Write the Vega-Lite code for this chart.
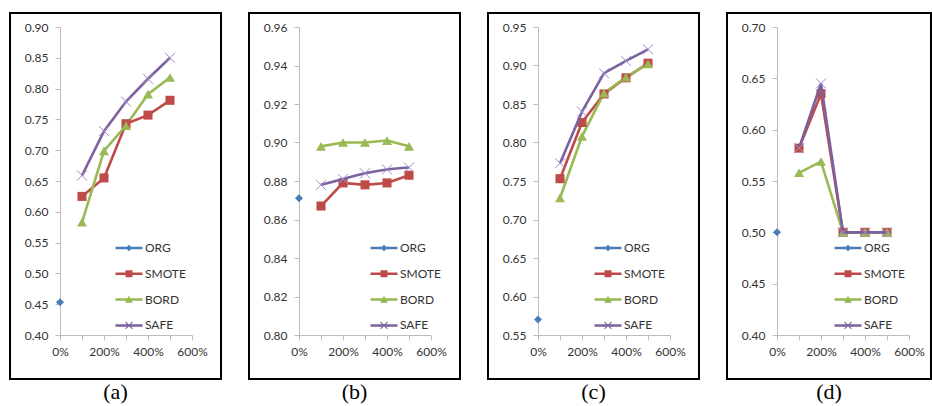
{
  "$schema": "https://vega.github.io/schema/vega-lite/v6.json",
  "padding": {"left": 9, "top": 12, "right": 0, "bottom": 0},
  "datasets": {
    "d": [
      {"p": "a", "s": "ORG", "x": 0, "v": 0.453},
      {"p": "a", "s": "SMOTE", "x": 100, "v": 0.625},
      {"p": "a", "s": "SMOTE", "x": 200, "v": 0.655},
      {"p": "a", "s": "SMOTE", "x": 300, "v": 0.743},
      {"p": "a", "s": "SMOTE", "x": 400, "v": 0.757},
      {"p": "a", "s": "SMOTE", "x": 500, "v": 0.781},
      {"p": "a", "s": "BORD", "x": 100, "v": 0.583},
      {"p": "a", "s": "BORD", "x": 200, "v": 0.699},
      {"p": "a", "s": "BORD", "x": 300, "v": 0.740},
      {"p": "a", "s": "BORD", "x": 400, "v": 0.791},
      {"p": "a", "s": "BORD", "x": 500, "v": 0.818},
      {"p": "a", "s": "SAFE", "x": 100, "v": 0.659},
      {"p": "a", "s": "SAFE", "x": 200, "v": 0.731},
      {"p": "a", "s": "SAFE", "x": 300, "v": 0.779},
      {"p": "a", "s": "SAFE", "x": 400, "v": 0.816},
      {"p": "a", "s": "SAFE", "x": 500, "v": 0.850},
      {"p": "b", "s": "ORG", "x": 0, "v": 0.871},
      {"p": "b", "s": "SMOTE", "x": 100, "v": 0.867},
      {"p": "b", "s": "SMOTE", "x": 200, "v": 0.879},
      {"p": "b", "s": "SMOTE", "x": 300, "v": 0.878},
      {"p": "b", "s": "SMOTE", "x": 400, "v": 0.879},
      {"p": "b", "s": "SMOTE", "x": 500, "v": 0.883},
      {"p": "b", "s": "BORD", "x": 100, "v": 0.898},
      {"p": "b", "s": "BORD", "x": 200, "v": 0.900},
      {"p": "b", "s": "BORD", "x": 300, "v": 0.900},
      {"p": "b", "s": "BORD", "x": 400, "v": 0.901},
      {"p": "b", "s": "BORD", "x": 500, "v": 0.898},
      {"p": "b", "s": "SAFE", "x": 100, "v": 0.878},
      {"p": "b", "s": "SAFE", "x": 200, "v": 0.881},
      {"p": "b", "s": "SAFE", "x": 300, "v": 0.884},
      {"p": "b", "s": "SAFE", "x": 400, "v": 0.886},
      {"p": "b", "s": "SAFE", "x": 500, "v": 0.887},
      {"p": "c", "s": "ORG", "x": 0, "v": 0.570},
      {"p": "c", "s": "SMOTE", "x": 100, "v": 0.753},
      {"p": "c", "s": "SMOTE", "x": 200, "v": 0.826},
      {"p": "c", "s": "SMOTE", "x": 300, "v": 0.863},
      {"p": "c", "s": "SMOTE", "x": 400, "v": 0.884},
      {"p": "c", "s": "SMOTE", "x": 500, "v": 0.903},
      {"p": "c", "s": "BORD", "x": 100, "v": 0.728},
      {"p": "c", "s": "BORD", "x": 200, "v": 0.808},
      {"p": "c", "s": "BORD", "x": 300, "v": 0.864},
      {"p": "c", "s": "BORD", "x": 400, "v": 0.885},
      {"p": "c", "s": "BORD", "x": 500, "v": 0.902},
      {"p": "c", "s": "SAFE", "x": 100, "v": 0.773},
      {"p": "c", "s": "SAFE", "x": 200, "v": 0.840},
      {"p": "c", "s": "SAFE", "x": 300, "v": 0.890},
      {"p": "c", "s": "SAFE", "x": 400, "v": 0.906},
      {"p": "c", "s": "SAFE", "x": 500, "v": 0.921},
      {"p": "d", "s": "ORG", "x": 0, "v": 0.500},
      {"p": "d", "s": "SMOTE", "x": 100, "v": 0.582},
      {"p": "d", "s": "SMOTE", "x": 200, "v": 0.635},
      {"p": "d", "s": "SMOTE", "x": 300, "v": 0.500},
      {"p": "d", "s": "SMOTE", "x": 400, "v": 0.500},
      {"p": "d", "s": "SMOTE", "x": 500, "v": 0.500},
      {"p": "d", "s": "BORD", "x": 100, "v": 0.558},
      {"p": "d", "s": "BORD", "x": 200, "v": 0.569},
      {"p": "d", "s": "BORD", "x": 300, "v": 0.500},
      {"p": "d", "s": "BORD", "x": 400, "v": 0.500},
      {"p": "d", "s": "BORD", "x": 500, "v": 0.500},
      {"p": "d", "s": "SAFE", "x": 100, "v": 0.582},
      {"p": "d", "s": "SAFE", "x": 200, "v": 0.645},
      {"p": "d", "s": "SAFE", "x": 300, "v": 0.500},
      {"p": "d", "s": "SAFE", "x": 400, "v": 0.500},
      {"p": "d", "s": "SAFE", "x": 500, "v": 0.500}
    ]
  },
  "data": {"name": "d"},
  "spacing": 26,
  "resolve": {"scale": {"color": "independent", "shape": "independent"}, "legend": {"color": "independent"}},
  "hconcat": [
    {
      "width": 211, "height": 366,
      "title": "(a)",
      "transform": [{"filter": "datum.p === 'a'"}],
      "encoding": {
        "x": {"field": "x", "type": "quantitative", "title": null, "scale": {"domain": [0, 600], "range": [50, 182], "nice": false, "zero": false}, "axis": {"values": [0, 100, 200, 300, 400, 500, 600], "labelExpr": "datum.value % 200 === 0 ? datum.value + '%' : ''", "offset": -44}},
        "y": {"field": "v", "type": "quantitative", "title": null, "scale": {"domain": [0.4, 0.9], "range": [322, 14], "nice": false, "zero": false}, "axis": {"values": [0.4, 0.45, 0.5, 0.55, 0.6, 0.65, 0.7, 0.75, 0.8, 0.85, 0.9], "format": ".2f", "offset": -50}},
        "color": {"field": "s", "type": "nominal", "scale": {"domain": ["ORG", "SMOTE", "BORD", "SAFE"], "range": ["#4a7ebb", "#be4b48", "#98b954", "#7d60a0"]},
          "legend": {"legendX": 113, "legendY": 229,
            "encoding": {"symbols": {
              "shape": {"value": {"expr": "datum.value === 'ORG' ? 'M-2.7,-0.25H2.7V0.25H-2.7Z M0,-0.65L0.65,0L0,0.65L-0.65,0Z' : datum.value === 'SMOTE' ? 'M-2.7,-0.25H2.7V0.25H-2.7Z M-0.7,-0.7H0.7V0.7H-0.7Z' : datum.value === 'BORD' ? 'M-2.7,-0.25H2.7V0.25H-2.7Z M0,-0.75L0.8,0.65H-0.8Z' : 'M-2.7,-0.25H2.7V0.25H-2.7Z M-0.77,-0.63L-0.63,-0.77L0.77,0.63L0.63,0.77Z M-0.77,0.63L0.63,-0.77L0.77,-0.63L-0.63,0.77Z'"}},
              "fill": {"value": {"expr": "datum.value === 'ORG' ? '#4a7ebb' : datum.value === 'SMOTE' ? '#be4b48' : datum.value === 'BORD' ? '#98b954' : '#7d60a0'"}},
              "stroke": {"value": "transparent"},
              "strokeWidth": {"value": 0},
              "opacity": {"value": 1},
              "size": {"value": 100}
            }}}}
      },
      "layer": [
        {"transform": [{"filter": "datum.s !== 'SAFE'"}], "mark": {"type": "line", "strokeWidth": 2.6}},
        {"transform": [{"filter": "datum.s !== 'SAFE'"}], "mark": {"type": "point", "filled": true, "opacity": 1}, "encoding": {"shape": {"field": "s", "legend": null, "scale": {"domain": ["ORG", "SMOTE", "BORD"], "range": ["diamond", "square", "triangle-up"]}}, "size": {"field": "s", "legend": null, "scale": {"domain": ["ORG", "SMOTE", "BORD"], "range": [64, 100, 110]}}}},
        {"transform": [{"filter": "datum.s === 'SAFE'"}], "mark": {"type": "line", "strokeWidth": 2.6}},
        {"transform": [{"filter": "datum.s === 'SAFE'"}], "mark": {"type": "point", "shape": "M-1,-1L1,1M-1,1L1,-1", "filled": false, "size": 100, "strokeWidth": 1, "opacity": 1}, "encoding": {"color": {"value": "#9d8cc5"}}}
      ]
    },
    {
      "width": 211, "height": 366,
      "title": "(b)",
      "transform": [{"filter": "datum.p === 'b'"}],
      "encoding": {
        "x": {"field": "x", "type": "quantitative", "title": null, "scale": {"domain": [0, 600], "range": [50, 182], "nice": false, "zero": false}, "axis": {"values": [0, 100, 200, 300, 400, 500, 600], "labelExpr": "datum.value % 200 === 0 ? datum.value + '%' : ''", "offset": -44}},
        "y": {"field": "v", "type": "quantitative", "title": null, "scale": {"domain": [0.8, 0.96], "range": [322, 14], "nice": false, "zero": false}, "axis": {"values": [0.8, 0.82, 0.84, 0.86, 0.88, 0.9, 0.92, 0.94, 0.96], "format": ".2f", "offset": -50}},
        "color": {"field": "s", "type": "nominal", "scale": {"domain": ["ORG", "SMOTE", "BORD", "SAFE"], "range": ["#4a7ebb", "#be4b48", "#98b954", "#7d60a0"]},
          "legend": {"legendX": 129, "legendY": 229,
            "encoding": {"symbols": {
              "shape": {"value": {"expr": "datum.value === 'ORG' ? 'M-2.7,-0.25H2.7V0.25H-2.7Z M0,-0.65L0.65,0L0,0.65L-0.65,0Z' : datum.value === 'SMOTE' ? 'M-2.7,-0.25H2.7V0.25H-2.7Z M-0.7,-0.7H0.7V0.7H-0.7Z' : datum.value === 'BORD' ? 'M-2.7,-0.25H2.7V0.25H-2.7Z M0,-0.75L0.8,0.65H-0.8Z' : 'M-2.7,-0.25H2.7V0.25H-2.7Z M-0.77,-0.63L-0.63,-0.77L0.77,0.63L0.63,0.77Z M-0.77,0.63L0.63,-0.77L0.77,-0.63L-0.63,0.77Z'"}},
              "fill": {"value": {"expr": "datum.value === 'ORG' ? '#4a7ebb' : datum.value === 'SMOTE' ? '#be4b48' : datum.value === 'BORD' ? '#98b954' : '#7d60a0'"}},
              "stroke": {"value": "transparent"},
              "strokeWidth": {"value": 0},
              "opacity": {"value": 1},
              "size": {"value": 100}
            }}}}
      },
      "layer": [
        {"transform": [{"filter": "datum.s !== 'SAFE'"}], "mark": {"type": "line", "strokeWidth": 2.6}},
        {"transform": [{"filter": "datum.s !== 'SAFE'"}], "mark": {"type": "point", "filled": true, "opacity": 1}, "encoding": {"shape": {"field": "s", "legend": null, "scale": {"domain": ["ORG", "SMOTE", "BORD"], "range": ["diamond", "square", "triangle-up"]}}, "size": {"field": "s", "legend": null, "scale": {"domain": ["ORG", "SMOTE", "BORD"], "range": [64, 100, 110]}}}},
        {"transform": [{"filter": "datum.s === 'SAFE'"}], "mark": {"type": "line", "strokeWidth": 2.6, "interpolate": "monotone"}},
        {"transform": [{"filter": "datum.s === 'SAFE'"}], "mark": {"type": "point", "shape": "M-1,-1L1,1M-1,1L1,-1", "filled": false, "size": 100, "strokeWidth": 1, "opacity": 1}, "encoding": {"color": {"value": "#9d8cc5"}}}
      ]
    },
    {
      "width": 211, "height": 366,
      "title": "(c)",
      "transform": [{"filter": "datum.p === 'c'"}],
      "encoding": {
        "x": {"field": "x", "type": "quantitative", "title": null, "scale": {"domain": [0, 600], "range": [50, 182], "nice": false, "zero": false}, "axis": {"values": [0, 100, 200, 300, 400, 500, 600], "labelExpr": "datum.value % 200 === 0 ? datum.value + '%' : ''", "offset": -44}},
        "y": {"field": "v", "type": "quantitative", "title": null, "scale": {"domain": [0.55, 0.95], "range": [322, 14], "nice": false, "zero": false}, "axis": {"values": [0.55, 0.6, 0.65, 0.7, 0.75, 0.8, 0.85, 0.9, 0.95], "format": ".2f", "offset": -50}},
        "color": {"field": "s", "type": "nominal", "scale": {"domain": ["ORG", "SMOTE", "BORD", "SAFE"], "range": ["#4a7ebb", "#be4b48", "#98b954", "#7d60a0"]},
          "legend": {"legendX": 114, "legendY": 229,
            "encoding": {"symbols": {
              "shape": {"value": {"expr": "datum.value === 'ORG' ? 'M-2.7,-0.25H2.7V0.25H-2.7Z M0,-0.65L0.65,0L0,0.65L-0.65,0Z' : datum.value === 'SMOTE' ? 'M-2.7,-0.25H2.7V0.25H-2.7Z M-0.7,-0.7H0.7V0.7H-0.7Z' : datum.value === 'BORD' ? 'M-2.7,-0.25H2.7V0.25H-2.7Z M0,-0.75L0.8,0.65H-0.8Z' : 'M-2.7,-0.25H2.7V0.25H-2.7Z M-0.77,-0.63L-0.63,-0.77L0.77,0.63L0.63,0.77Z M-0.77,0.63L0.63,-0.77L0.77,-0.63L-0.63,0.77Z'"}},
              "fill": {"value": {"expr": "datum.value === 'ORG' ? '#4a7ebb' : datum.value === 'SMOTE' ? '#be4b48' : datum.value === 'BORD' ? '#98b954' : '#7d60a0'"}},
              "stroke": {"value": "transparent"},
              "strokeWidth": {"value": 0},
              "opacity": {"value": 1},
              "size": {"value": 100}
            }}}}
      },
      "layer": [
        {"transform": [{"filter": "datum.s !== 'SAFE'"}], "mark": {"type": "line", "strokeWidth": 2.6}},
        {"transform": [{"filter": "datum.s !== 'SAFE'"}], "mark": {"type": "point", "filled": true, "opacity": 1}, "encoding": {"shape": {"field": "s", "legend": null, "scale": {"domain": ["ORG", "SMOTE", "BORD"], "range": ["diamond", "square", "triangle-up"]}}, "size": {"field": "s", "legend": null, "scale": {"domain": ["ORG", "SMOTE", "BORD"], "range": [64, 100, 110]}}}},
        {"transform": [{"filter": "datum.s === 'SAFE'"}], "mark": {"type": "line", "strokeWidth": 2.6}},
        {"transform": [{"filter": "datum.s === 'SAFE'"}], "mark": {"type": "point", "shape": "M-1,-1L1,1M-1,1L1,-1", "filled": false, "size": 100, "strokeWidth": 1, "opacity": 1}, "encoding": {"color": {"value": "#9d8cc5"}}}
      ]
    },
    {
      "width": 204, "height": 366,
      "title": "(d)",
      "transform": [{"filter": "datum.p === 'd'"}],
      "encoding": {
        "x": {"field": "x", "type": "quantitative", "title": null, "scale": {"domain": [0, 600], "range": [50, 182], "nice": false, "zero": false}, "axis": {"values": [0, 100, 200, 300, 400, 500, 600], "labelExpr": "datum.value % 200 === 0 ? datum.value + '%' : ''", "offset": -44}},
        "y": {"field": "v", "type": "quantitative", "title": null, "scale": {"domain": [0.4, 0.7], "range": [322, 14], "nice": false, "zero": false}, "axis": {"values": [0.4, 0.45, 0.5, 0.55, 0.6, 0.65, 0.7], "format": ".2f", "offset": -50}},
        "color": {"field": "s", "type": "nominal", "scale": {"domain": ["ORG", "SMOTE", "BORD", "SAFE"], "range": ["#4a7ebb", "#be4b48", "#98b954", "#7d60a0"]},
          "legend": {"legendX": 115, "legendY": 229,
            "encoding": {"symbols": {
              "shape": {"value": {"expr": "datum.value === 'ORG' ? 'M-2.7,-0.25H2.7V0.25H-2.7Z M0,-0.65L0.65,0L0,0.65L-0.65,0Z' : datum.value === 'SMOTE' ? 'M-2.7,-0.25H2.7V0.25H-2.7Z M-0.7,-0.7H0.7V0.7H-0.7Z' : datum.value === 'BORD' ? 'M-2.7,-0.25H2.7V0.25H-2.7Z M0,-0.75L0.8,0.65H-0.8Z' : 'M-2.7,-0.25H2.7V0.25H-2.7Z M-0.77,-0.63L-0.63,-0.77L0.77,0.63L0.63,0.77Z M-0.77,0.63L0.63,-0.77L0.77,-0.63L-0.63,0.77Z'"}},
              "fill": {"value": {"expr": "datum.value === 'ORG' ? '#4a7ebb' : datum.value === 'SMOTE' ? '#be4b48' : datum.value === 'BORD' ? '#98b954' : '#7d60a0'"}},
              "stroke": {"value": "transparent"},
              "strokeWidth": {"value": 0},
              "opacity": {"value": 1},
              "size": {"value": 100}
            }}}}
      },
      "layer": [
        {"transform": [{"filter": "datum.s !== 'SAFE'"}], "mark": {"type": "line", "strokeWidth": 2.6}},
        {"transform": [{"filter": "datum.s !== 'SAFE'"}], "mark": {"type": "point", "filled": true, "opacity": 1}, "encoding": {"shape": {"field": "s", "legend": null, "scale": {"domain": ["ORG", "SMOTE", "BORD"], "range": ["diamond", "square", "triangle-up"]}}, "size": {"field": "s", "legend": null, "scale": {"domain": ["ORG", "SMOTE", "BORD"], "range": [64, 100, 110]}}}},
        {"transform": [{"filter": "datum.s === 'SAFE'"}], "mark": {"type": "line", "strokeWidth": 2.6}},
        {"transform": [{"filter": "datum.s === 'SAFE'"}], "mark": {"type": "point", "shape": "M-1,-1L1,1M-1,1L1,-1", "filled": false, "size": 100, "strokeWidth": 1, "opacity": 1}, "encoding": {"color": {"value": "#9d8cc5"}}}
      ]
    }
  ],
  "config": {
    "background": "white",
    "view": {"stroke": "black", "strokeWidth": 2},
    "axis": {"grid": false, "domainColor": "#bcbcbc", "tickColor": "#bcbcbc", "tickSize": 5, "domainWidth": 1, "tickWidth": 1, "labelFont": "Lato", "labelFontSize": 12, "labelColor": "#333333", "labelOverlap": false, "labelFlush": false},
    "axisY": {"labelPadding": 7},
    "axisX": {"labelPadding": 6},
    "legend": {"orient": "none", "title": null, "direction": "vertical", "symbolSize": 100, "rowPadding": 13.8, "labelFont": "Lato", "labelFontSize": 12, "labelColor": "#333333", "padding": 0, "labelOffset": 10, "symbolOffset": 0},
    "title": {"orient": "bottom", "font": "Liberation Serif", "fontSize": 22, "fontWeight": "normal", "color": "black", "offset": 3, "anchor": "middle"}
  }
}
